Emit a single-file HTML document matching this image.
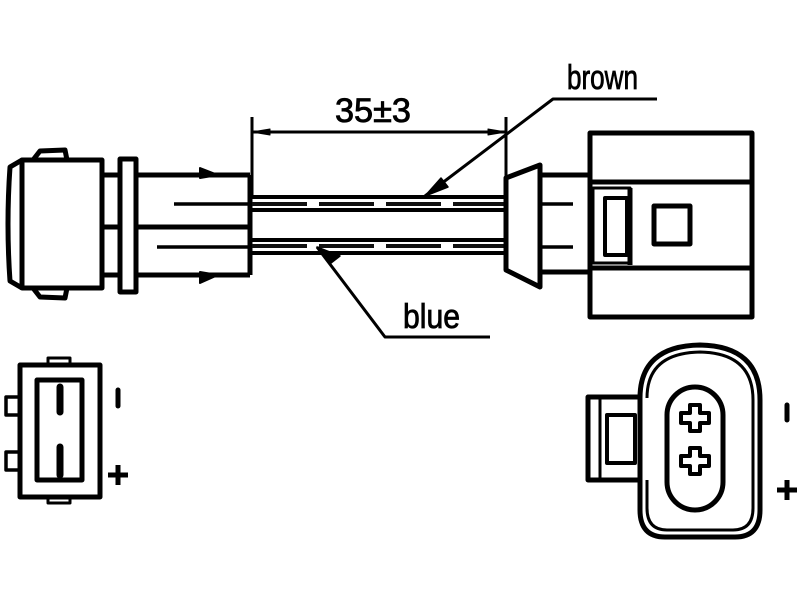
<!DOCTYPE html>
<html><head><meta charset="utf-8"><style>html,body{margin:0;padding:0;background:#fff}svg{display:block}</style></head><body>
<svg width="800" height="600" viewBox="0 0 800 600" xmlns="http://www.w3.org/2000/svg">
<g fill="none" stroke="#000" stroke-width="5" stroke-linejoin="round">
<!-- left connector -->
<path d="M22,160 L10,167 Q6,224 10,281 L22,288"/>
<rect x="22" y="160" width="80" height="128"/>
<path d="M33,160 L40,151 L65,150 L67,160"/>
<path d="M33,288 L40,297 L65,298 L67,288"/>
<path d="M102,175 H120 M102,227 H120 M102,275 H120"/>
<rect x="120" y="159" width="16" height="133"/>
<path d="M136,175 H250 M136,227 H250 M136,275 H250"/>
<path d="M250,175 V275" />
<path d="M174,204 H250 M157,247 H250" stroke-width="3.5"/>
<path d="M200,168 L218,175 L200,178 Z" fill="#000" stroke-width="2"/>
<path d="M200,272 L218,275 L200,283 Z" fill="#000" stroke-width="2"/>
<!-- wires -->
<path d="M252,197 H506 M252,210 H506 M252,240 H506 M252,253 H506" stroke-width="4"/>
<path d="M252,204 H506 M252,246 H506" stroke-width="4" stroke-dasharray="55,12" stroke="#111"/>
<!-- dimension -->
<path d="M252,117 V197 M506,117 V197" stroke-width="3"/>
<path d="M252,132 H506" stroke-width="3"/>
<path d="M252,132 L270,129 L270,135 Z M506,132 L488,129 L488,135 Z" fill="#000" stroke-width="1"/>
<!-- brown leader -->
<path d="M657,99 H553 L425,196" stroke-width="3"/>
<path d="M425,196 L441,178 L448,187 Z" fill="#000" stroke-width="1.5"/>
<!-- blue leader -->
<path d="M490,337 H385 L317,247" stroke-width="3"/>
<path d="M317,247 L331,263 L340,256 Z" fill="#000" stroke-width="1.5"/>
<!-- right flare -->
<path d="M506,178 L540,165 L540,287 L506,270 Z"/>
<path d="M540,175 H590 M540,272 H590"/>
<path d="M540,204 H573 M540,247 H573" stroke-width="3.5"/>
<!-- right box -->
<rect x="590" y="133" width="162" height="184"/>
<path d="M590,182 H752 M590,268 H752"/>
<rect x="593" y="188" width="37" height="75" stroke-width="3"/>
<rect x="605" y="198" width="22" height="57" stroke-width="4"/>
<path d="M630,188 V265" stroke-width="5"/>
<rect x="654" y="206" width="36" height="38"/>
<!-- bottom left -->
<rect x="20" y="365" width="80" height="132"/>
<rect x="48" y="358" width="22" height="7" stroke-width="3"/>
<rect x="48" y="497" width="22" height="6" stroke-width="3"/>
<rect x="37" y="380" width="45" height="100"/>
<rect x="6" y="397" width="14" height="18" stroke-width="3.5"/>
<rect x="6" y="452" width="14" height="18" stroke-width="3.5"/>
<path d="M60,387 V412 M60,447 V475" stroke-width="7" stroke-linecap="round"/>
<path d="M118,390 V406" stroke-width="5" stroke-linecap="round"/>
<path d="M108,475 H128 M118,465 V485" stroke-width="5"/>
<!-- bottom right -->
<path d="M640,398 Q640,346 700,345 Q760,346 760,400 V510 Q760,537 735,537 H665 Q640,537 640,510 V480"/>
<path d="M647,398 Q647,353 700,352 Q753,353 753,400 V508 Q753,530 733,530 H667 Q647,530 647,508 V480" stroke-width="3"/>
<rect x="588" y="397" width="52" height="83"/>
<path d="M600,397 V480" stroke-width="3"/>
<rect x="607" y="415" width="28" height="48" stroke-width="4"/>
<rect x="667" y="387" width="56" height="123" rx="28" ry="28"/>
<path d="M690,405 h10 v8 h9 v10 h-9 v8 h-10 v-8 h-9 v-10 h9 Z" stroke-width="4"/>
<path d="M690,448 h10 v8 h9 v10 h-9 v8 h-10 v-8 h-9 v-10 h9 Z" stroke-width="4"/>
<path d="M787,405 V420" stroke-width="5" stroke-linecap="round"/>
<path d="M777,490 H797 M787,480 V500" stroke-width="5"/>
</g>
<g font-family="Liberation Sans, sans-serif" font-size="34" fill="#000" stroke="#000" stroke-width="0.8">
<text x="335" y="122" textLength="76" lengthAdjust="spacingAndGlyphs">35±3</text>
<text x="567" y="89" textLength="71" lengthAdjust="spacingAndGlyphs">brown</text>
<text x="403" y="328" textLength="57" lengthAdjust="spacingAndGlyphs">blue</text>
</g>
</svg>
</body></html>
